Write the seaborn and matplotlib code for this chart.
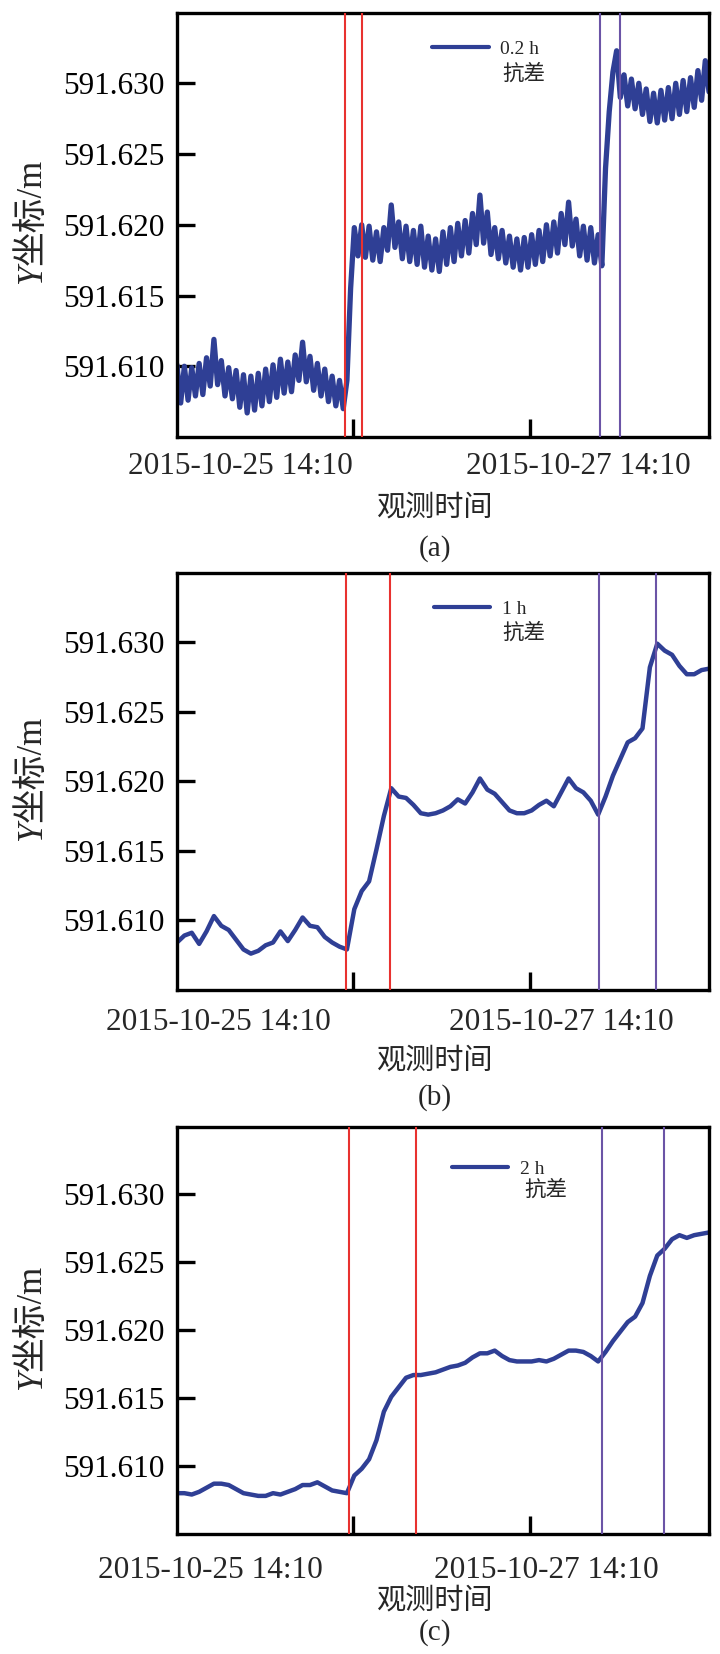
import pandas as pd
import numpy as np
import matplotlib
matplotlib.use('Agg')
import matplotlib.pyplot as plt
from matplotlib.ticker import FormatStrFormatter
import seaborn as sns

# time axis
start_time = '2015-10-23 14:30'
tick_times = ['2015-10-25 14:10', '2015-10-27 14:10']
tick_labels = ['2015-10-25 14:10', '2015-10-27 14:10']
y_ticks = [591.610, 591.615, 591.620, 591.625, 591.630]

# 0.2 h solution, read hourly (alternating top / bottom of the noisy band)
y_02h = [
    591.6101, 591.6074, 591.6100, 591.6076, 591.6099, 591.6079, 591.6102, 591.6080, 591.6106, 591.6086,
    591.6119, 591.6087, 591.6104, 591.6079, 591.6099, 591.6077, 591.6097, 591.6071, 591.6094, 591.6067,
    591.6093, 591.6069, 591.6095, 591.6072, 591.6098, 591.6075, 591.6101, 591.6078, 591.6105, 591.6081,
    591.6103, 591.6082, 591.6108, 591.6090, 591.6117, 591.6089, 591.6107, 591.6083, 591.6102, 591.6079,
    591.6098, 591.6075, 591.6093, 591.6072, 591.6090, 591.6070, 591.6090, 591.6155, 591.6198, 591.6178,
    591.6200, 591.6177, 591.6199, 591.6175, 591.6195, 591.6174, 591.6198, 591.6182, 591.6214, 591.6184,
    591.6202, 591.6176, 591.6199, 591.6174, 591.6196, 591.6172, 591.6199, 591.6170, 591.6192, 591.6168,
    591.6190, 591.6167, 591.6195, 591.6172, 591.6198, 591.6174, 591.6201, 591.6178, 591.6203, 591.6180,
    591.6208, 591.6186, 591.6221, 591.6187, 591.6209, 591.6179, 591.6198, 591.6176, 591.6196, 591.6173,
    591.6192, 591.6170, 591.6190, 591.6168, 591.6191, 591.6170, 591.6193, 591.6172, 591.6196, 591.6174,
    591.6200, 591.6178, 591.6202, 591.6180, 591.6208, 591.6186, 591.6216, 591.6185, 591.6204, 591.6178,
    591.6199, 591.6175, 591.6198, 591.6173, 591.6193, 591.6171, 591.6240, 591.6280, 591.6308, 591.6323,
    591.6290, 591.6306, 591.6284, 591.6303, 591.6282, 591.6300, 591.6278, 591.6296, 591.6273, 591.6293,
    591.6272, 591.6295, 591.6274, 591.6297, 591.6275, 591.6300, 591.6278, 591.6302, 591.6280, 591.6304,
    591.6283, 591.6309, 591.6288, 591.6316, 591.6294,
]

# 1 h solution, read every 2 h
y_1h = [
    591.6084, 591.6089, 591.6091, 591.6083, 591.6092, 591.6103, 591.6096, 591.6093, 591.6086, 591.6079,
    591.6076, 591.6078, 591.6082, 591.6084, 591.6092, 591.6085, 591.6093, 591.6102, 591.6096, 591.6095,
    591.6088, 591.6084, 591.6081, 591.6079, 591.6108, 591.6121, 591.6128, 591.6151, 591.6175, 591.6195,
    591.6189, 591.6188, 591.6183, 591.6177, 591.6176, 591.6177, 591.6179, 591.6182, 591.6187, 591.6184,
    591.6192, 591.6202, 591.6194, 591.6191, 591.6185, 591.6179, 591.6177, 591.6177, 591.6179, 591.6183,
    591.6186, 591.6182, 591.6192, 591.6202, 591.6195, 591.6192, 591.6186, 591.6176, 591.6189, 591.6204,
    591.6216, 591.6228, 591.6231, 591.6238, 591.6282, 591.6299, 591.6294, 591.6291, 591.6283, 591.6277,
    591.6277, 591.6280, 591.6281,
]

# 2 h solution, read every 2 h
y_2h = [
    591.6080, 591.6080, 591.6079, 591.6081, 591.6084, 591.6087, 591.6087, 591.6086, 591.6083, 591.6080,
    591.6079, 591.6078, 591.6078, 591.6080, 591.6079, 591.6081, 591.6083, 591.6086, 591.6086, 591.6088,
    591.6085, 591.6082, 591.6081, 591.6080, 591.6093, 591.6098, 591.6105, 591.6119, 591.6140, 591.6151,
    591.6158, 591.6165, 591.6167, 591.6167, 591.6168, 591.6169, 591.6171, 591.6173, 591.6174, 591.6176,
    591.6180, 591.6183, 591.6183, 591.6185, 591.6181, 591.6178, 591.6177, 591.6177, 591.6177, 591.6178,
    591.6177, 591.6179, 591.6182, 591.6185, 591.6185, 591.6184, 591.6181, 591.6177, 591.6184, 591.6192,
    591.6199, 591.6206, 591.6210, 591.6220, 591.6240, 591.6255, 591.6260, 591.6267, 591.6270, 591.6268,
    591.6270, 591.6271, 591.6272,
]

# marked periods (red = first shift, purple = second shift)
red_a = ['2015-10-25 12:00', '2015-10-25 16:35']
purple_a = ['2015-10-28 09:05', '2015-10-28 14:20']
red_b = ['2015-10-25 12:20', '2015-10-26 00:10']
purple_b = ['2015-10-28 08:50', '2015-10-29 00:05']
red_c = ['2015-10-25 13:00', '2015-10-26 07:05']
purple_c = ['2015-10-28 09:25', '2015-10-29 02:25']

sns.set_theme(style='ticks')
plt.rcParams['font.family'] = ['Liberation Serif', 'Noto Sans CJK SC']

blue = '#2f3f95'
red = '#e8322f'
purple = '#6b54a6'

fig = plt.figure(figsize=(7.2, 16.54), dpi=100)

panels = [
    dict(y=y_02h, freq='1h', label='0.2 h', red=red_a, purple=purple_a, lw=3.8,
         rect=[0.2458, 0.7358, 0.7389, 0.2566], leg=(0.480, 0.914), leg2=(0.611, 0.853),
         tick_dx=(-113, 48), tick_dy=30, xlab_dy=71, tag_dy=112, tag='(a)'),
    dict(y=y_1h, freq='2h', label='1 h', red=red_b, purple=purple_b, lw=3.2,
         rect=[0.2458, 0.4016, 0.7389, 0.2521], leg=(0.483, 0.913), leg2=(0.611, 0.854),
         tick_dx=(-135, 31), tick_dy=33, xlab_dy=71, tag_dy=108, tag='(b)'),
    dict(y=y_2h, freq='2h', label='2 h', red=red_c, purple=purple_c, lw=3.2,
         rect=[0.2458, 0.0726, 0.7389, 0.2463], leg=(0.517, 0.896), leg2=(0.652, 0.843),
         tick_dx=(-143, 16), tick_dy=37, xlab_dy=67, tag_dy=99, tag='(c)'),
]

for p in panels:
    ax = fig.add_axes(p['rect'])
    times = pd.date_range(start=start_time, periods=len(p['y']), freq=p['freq'])
    df = pd.DataFrame({'time': times, 'Y': p['y']})
    sns.lineplot(data=df, x='time', y='Y', ax=ax, color=blue, lw=p['lw'], label=p['label'])

    for t in p['red']:
        ax.axvline(pd.Timestamp(t), color=red, lw=1.5, zorder=3)
    for t in p['purple']:
        ax.axvline(pd.Timestamp(t), color=purple, lw=1.5, zorder=3)

    ax.set_xlim(times[0], times[-1])
    ax.set_ylim(591.605, 591.635)
    ax.set_yticks(y_ticks)
    ax.yaxis.set_major_formatter(FormatStrFormatter('%.3f'))
    ax.set_xticks([pd.Timestamp(t) for t in tick_times])
    ax.set_xticklabels(['', ''])
    ax.tick_params(axis='both', direction='in', length=13, width=2.4, colors='black',
                   labelsize=22.5, pad=9)
    for s in ax.spines.values():
        s.set_linewidth(2.4)
        s.set_color('black')

    # date labels under the axis
    for t, lab, dx in zip(tick_times, tick_labels, p['tick_dx']):
        ax.annotate(lab, xy=(pd.Timestamp(t), 0), xycoords=('data', 'axes fraction'),
                    xytext=(dx * 0.72, -p['tick_dy'] * 0.72), textcoords='offset points',
                    ha='center', va='center', fontsize=22.5)

    ax.set_xlabel('')
    ax.set_ylabel('')
    # y label: italic "Y" followed by "坐标/m", rotated
    ylab = ax.text(-0.272, 0.53, '坐标/m', rotation=90, transform=ax.transAxes,
                   ha='center', va='center', fontsize=25)
    ax.annotate('Y', xy=(0.5, 0), xycoords=ylab, xytext=(0, 0), textcoords='offset points',
                rotation=90, ha='center', va='top', fontsize=25, style='italic')

    ax.annotate('观测时间', xy=(0.485, 0), xycoords='axes fraction',
                xytext=(0, -p['xlab_dy'] * 0.72), textcoords='offset points',
                ha='center', va='center', fontsize=21)
    ax.annotate(p['tag'], xy=(0.485, 0), xycoords='axes fraction',
                xytext=(0, -p['tag_dy'] * 0.72), textcoords='offset points',
                ha='center', va='center', fontsize=21)

    leg = ax.legend(loc='center left', bbox_to_anchor=p['leg'], frameon=False,
                    fontsize=14, handlelength=2.9, handletextpad=0.6,
                    borderpad=0, borderaxespad=0)
    for h in leg.get_lines():
        h.set_linewidth(3.0)
    ax.text(p['leg2'][0], p['leg2'][1], '抗差', transform=ax.transAxes,
            ha='left', va='center', fontsize=15.5)

fig.savefig('out.png', dpi=100)
